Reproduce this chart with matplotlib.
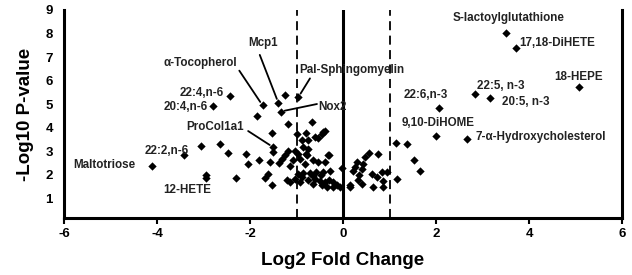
import matplotlib
matplotlib.use("Agg")
import matplotlib.pyplot as plt

plt.rcParams['font.family'] = ['Liberation Sans', 'DejaVu Sans']

# Labeled points
label_names = ["S-lactoylglutathione", "17,18-DiHETE", "18-HEPE", "22:5, n-3", "20:5, n-3",
               "22:6,n-3", "9,10-DiHOME", "7-\u03b1-Hydroxycholesterol", "Pal-Sphingomyelin",
               "Nox2", "Mcp1", "\u03b1-Tocopherol", "22:4,n-6", "20:4,n-6", "ProCol1a1",
               "22:2,n-6", "Maltotriose", "12-HETE"]
label_fc = [3.51, 3.71, 5.07, 2.83, 3.17, 2.07, 2.00, 2.67, -0.96, -1.34, -1.39, -1.73,
            -2.44, -2.80, -1.50, -3.41, -4.10, -2.94]
label_p = [8.01, 7.39, 5.74, 5.43, 5.26, 4.84, 3.66, 3.52, 5.29, 4.68, 5.05, 4.94,
           5.32, 4.91, 3.16, 2.82, 2.38, 1.98]

# Unlabeled points
other_fc = [-2.94, -1.24, -1.86, -1.18, -0.67, -1.52, -1.00, -0.39, -0.46, -0.53, -0.80,
            -0.75, -0.89, -0.86, -0.75, -0.80, -0.64, -0.53, -0.39, -0.30, -0.28, -0.42,
            -0.57, -0.71, -0.86, -0.60, -0.50, -0.39, -0.21, -0.35, -0.21, -0.65, -0.03,
            -0.06, -1.50, -2.09, -1.81, -2.05, -1.56, -1.37, -1.32, -1.25, -1.18, -1.03,
            -0.96, -0.93, -1.07, -1.14, -0.82, -1.61, -1.68, -1.53, -1.21, -1.14, -1.03,
            -0.96, -0.93, -0.89, -3.05, -2.64, -2.48, -2.31, -0.60, -0.42, -0.78, -0.32,
            -0.48, -0.65, -0.75, -0.30, -0.12, -0.45, 0.15,
            1.14, 1.37, 1.52, 1.66, 1.17, 0.55, 0.76, 0.47, 0.30, 0.44, 0.26, 0.40, 0.22,
            0.35, 0.62, 0.73, 0.83, 0.94, 0.87, 0.14, 0.40, 0.64, 0.86, 0.33]
other_p = [1.84, 5.40, 4.51, 4.16, 4.23, 3.76, 3.73, 3.84, 3.73, 3.55, 3.77,
           3.48, 3.45, 3.16, 3.09, 2.88, 2.62, 2.52, 2.52, 2.85, 2.14, 2.10,
           2.10, 2.06, 2.06, 1.82, 1.74, 1.67, 1.67, 1.49, 1.49, 1.60, 2.29,
           1.49, 2.95, 2.88, 2.60, 2.43, 2.52, 2.48, 2.67, 2.85, 2.99, 3.02,
           2.88, 2.67, 2.62, 2.38, 2.45, 2.03, 1.85, 1.55, 1.78, 1.67, 1.82,
           2.03, 1.67, 1.89, 3.21, 3.31, 2.92, 1.85, 3.60, 3.82, 2.83, 2.83,
           2.00, 1.95, 1.75, 1.75, 1.55, 1.55, 1.55,
           3.35, 3.31, 2.62, 2.13, 1.79, 2.92, 2.88, 2.74, 2.55, 2.45, 2.31, 2.24, 2.14,
           2.00, 2.03, 1.89, 2.10, 2.10, 1.74, 1.49, 1.60, 1.49, 1.49, 1.77]

x_ticks = [-6, -4, -2, 0, 2, 4, 6]
y_ticks = [1, 2, 3, 4, 5, 6, 7, 8, 9]

# label text positions (data coords) and alignment
text_pos = {
    "S-lactoylglutathione": (3.56, 8.66, 'center'),
    "17,18-DiHETE": (3.79, 7.61, 'left'),
    "18-HEPE": (5.06, 6.16, 'center'),
    "22:5, n-3": (2.88, 5.77, 'left'),
    "20:5, n-3": (3.43, 5.10, 'left'),
    "22:6,n-3": (1.31, 5.38, 'left'),
    "9,10-DiHOME": (1.27, 4.18, 'left'),
    "7-\u03b1-Hydroxycholesterol": (2.84, 3.58, 'left'),
    "Pal-Sphingomyelin": (-0.95, 6.45, 'left'),
    "Nox2": (-0.53, 4.89, 'left'),
    "Mcp1": (-1.72, 7.61, 'center'),
    "\u03b1-Tocopherol": (-3.07, 6.73, 'center'),
    "22:4,n-6": (-2.56, 5.48, 'right'),
    "20:4,n-6": (-2.91, 4.86, 'right'),
    "ProCol1a1": (-2.76, 4.03, 'center'),
    "22:2,n-6": (-3.79, 3.01, 'center'),
    "Maltotriose": (-5.13, 2.40, 'center'),
    "12-HETE": (-3.36, 1.34, 'center'),
}
# pointer line starts
pointers = {
    "Mcp1": (-1.79, 7.09),
    "\u03b1-Tocopherol": (-2.23, 6.42),
    "Pal-Sphingomyelin": (-0.71, 6.09),
    "Nox2": (-0.56, 5.0),
    "ProCol1a1": (-2.04, 3.85),
}

fig = plt.figure(figsize=(6.32, 2.75), dpi=100)
ax = fig.add_axes([64/632, 57/275, 558/632, 208/275])

ax.scatter(other_fc + label_fc, other_p + label_p, marker='D', s=18, color='black',
           linewidths=0, zorder=3)

ax.axvline(0, color='black', lw=2.2, zorder=2)
ax.axvline(-1, color='black', lw=1.3, ls=(0, (5, 3)), zorder=2)
ax.axvline(1, color='black', lw=1.3, ls=(0, (5, 3)), zorder=2)

for name, fc, p in zip(label_names, label_fc, label_p):
    tx, ty, ha = text_pos[name]
    ax.text(tx, ty, name, ha=ha, va='center', fontsize=8.4, fontweight='bold',
            color='#222222')
    if name in pointers:
        ax.annotate('', xy=(fc, p), xytext=pointers[name],
                    arrowprops=dict(arrowstyle='-', color='black', lw=1.3,
                                    shrinkA=0, shrinkB=3))

ax.set_xlim(-6, 6)
ax.set_ylim(0.15, 9)
ax.set_xticks(x_ticks)
ax.set_xticklabels([str(t) for t in x_ticks])
ax.set_yticks(y_ticks)
ax.set_yticklabels([str(t) for t in y_ticks])
for lab in ax.get_xticklabels() + ax.get_yticklabels():
    lab.set_fontweight('bold')
    lab.set_fontsize(9.5)
ax.tick_params(axis='x', direction='out', length=4, width=1.5, pad=3)
ax.tick_params(axis='y', length=0, pad=8)

ax.spines['top'].set_visible(False)
for s in ['left', 'bottom', 'right']:
    ax.spines[s].set_linewidth(2.2)

ax.set_xlabel('Log2 Fold Change', fontsize=13.5, fontweight='bold', labelpad=9)
ax.set_ylabel('-Log10 P-value', fontsize=13.5, fontweight='bold', labelpad=8)

fig.savefig('out.png', dpi=100)
